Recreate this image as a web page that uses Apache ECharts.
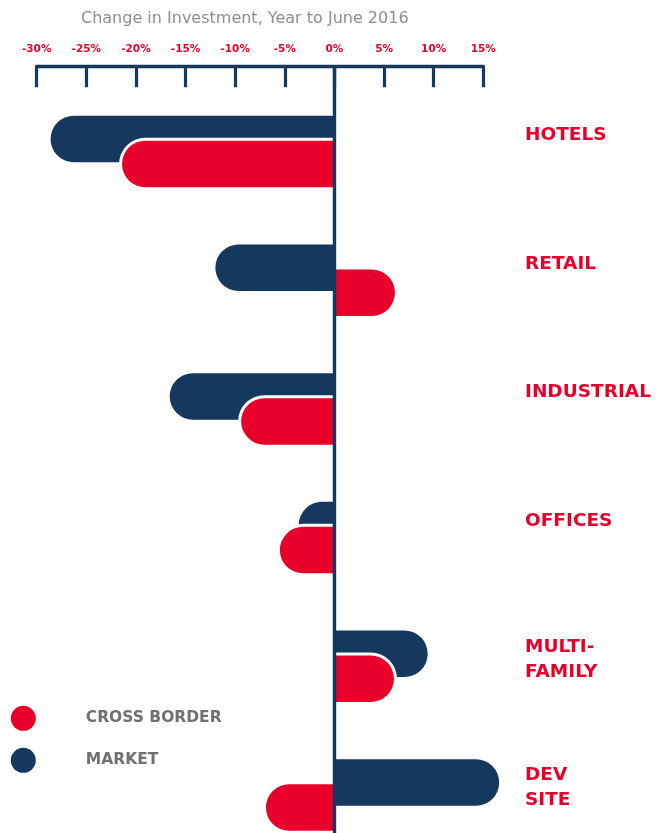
<!DOCTYPE html>
<html>
<head>
<meta charset="utf-8">
<script src="https://cdn.jsdelivr.net/npm/echarts@6/dist/echarts.min.js"></script>
<style>
html,body{margin:0;padding:0;background:#fff;}
#chart{width:669px;height:833px;}
</style>
</head>
<body>
<div id="chart"></div>
<script>
// ---- data ----
const categories = ['HOTELS', 'RETAIL', 'INDUSTRIAL', 'OFFICES', 'MULTI-\nFAMILY', 'DEV\nSITE'];
const marketValues = [-28.6, -12.0, -16.6, -3.6, 9.4, 16.6];
const crossBorderValues = [-21.4, 6.1, -9.4, -5.5, 6.0, -6.9];
const xTicks = { min: -30, max: 15, interval: 5 };
const titleText = 'Change in Investment, Year to June 2016';
const seriesNames = ['CROSS BORDER', 'MARKET'];

// ---- style ----
const NAVY = '#15385e';
const RED = '#e8002a';
const FONT = 'DejaVu Sans';
const BAR_W = 46.5;
const R = BAR_W / 2;
const OFFSET = 12.5;   // half of the vertical shift between the two bars
const PAD = 3;         // white outline thickness around cross-border bars
const GRID_LEFT = 36.7, GRID_RIGHT = 669 - 483.3;

function rounded(vals) {
  return vals.map(v => ({
    value: v,
    itemStyle: { borderRadius: v < 0 ? [R, 0, 0, R] : [0, R, R, 0] }
  }));
}

const chart = echarts.init(document.getElementById('chart'), null, { renderer: 'canvas' });
chart.setOption({
  animation: false,
  backgroundColor: '#fff',
  title: {
    text: titleText,
    left: 81,
    top: 11,
    padding: 0,
    textStyle: { fontFamily: FONT, fontSize: 16, fontWeight: 'normal', color: '#8e8e8e' }
  },
  legend: {
    data: seriesNames,
    orient: 'vertical',
    left: 10.8,
    top: 705.8,
    padding: 0,
    icon: 'circle',
    itemWidth: 25,
    itemHeight: 25,
    itemGap: 17,
    selectedMode: false,
    textStyle: { fontFamily: FONT, fontSize: 15.5, fontWeight: 'bold', color: '#707070', padding: [2, 0, 0, 45] }
  },
  grid: [
    { left: GRID_LEFT, right: GRID_RIGHT, top: 151.5, bottom: 38, containLabel: false },
    { left: GRID_LEFT, right: GRID_RIGHT, top: 66.7, bottom: 0, containLabel: false }
  ],
  xAxis: [
    {
      gridIndex: 0, type: 'value', min: xTicks.min, max: xTicks.max, interval: xTicks.interval,
      show: false
    },
    {
      gridIndex: 1, type: 'value', position: 'top', min: xTicks.min, max: xTicks.max, interval: xTicks.interval,
      axisLine: { show: true, onZero: false, lineStyle: { color: NAVY, width: 3.4 } },
      axisTick: { show: true, inside: true, length: 20.5, lineStyle: { color: NAVY, width: 3.2 } },
      axisLabel: {
        formatter: '{value}%', margin: 12, color: RED,
        fontFamily: FONT, fontSize: 10.5, fontWeight: 'bold'
      },
      splitLine: { show: false },
      z: 10
    }
  ],
  yAxis: [
    {
      gridIndex: 0, type: 'category', inverse: true, data: categories, position: 'right',
      boundaryGap: false,
      axisLine: { show: false }, axisTick: { show: false }, splitLine: { show: false },
      axisLabel: {
        margin: 41.7, color: RED, fontFamily: FONT, fontSize: 18.5, fontWeight: 'bold',
        lineHeight: 25, verticalAlign: 'middle', align: 'left',
        formatter: function (v) {
          return v.indexOf('\n') >= 0 ? v + '\n{s2| }' : v + '\n{s1| }';
        },
        rich: {
          s1: { lineHeight: 33, fontSize: 2 },
          s2: { lineHeight: 14, fontSize: 2 }
        }
      }
    },
    {
      gridIndex: 1, type: 'value', min: 0, max: 1,
      axisLine: { show: true, onZero: true, lineStyle: { color: NAVY, width: 3.4 } },
      axisTick: { show: false }, axisLabel: { show: false }, splitLine: { show: false },
      z: 10
    }
  ],
  series: [
    {
      name: seriesNames[1], type: 'bar', xAxisIndex: 0, yAxisIndex: 0,
      data: rounded(marketValues), barWidth: BAR_W, barGap: '-46.24%',
      itemStyle: { color: NAVY }, clip: false, z: 2
    },
    {
      name: 'outline', type: 'custom', xAxisIndex: 0, yAxisIndex: 0,
      data: crossBorderValues.map((v, i) => [v, i]),
      encode: { x: 0, y: 1 },
      clip: false, z: 3, silent: true,
      renderItem: function (params, api) {
        const v = api.value(0), c = api.value(1);
        const p0 = api.coord([0, c]);
        const p1 = api.coord([v, c]);
        const h = BAR_W + 2 * PAD;
        const cy = p0[1] + OFFSET;
        const x1 = p1[0] + (v < 0 ? -PAD : PAD);
        const x = Math.min(p0[0], x1), w = Math.abs(x1 - p0[0]);
        const r = h / 2;
        return {
          type: 'rect',
          shape: { x: x, y: cy - h / 2, width: w, height: h, r: v < 0 ? [r, 0, 0, r] : [0, r, r, 0] },
          style: { fill: '#fff' }
        };
      }
    },
    {
      name: seriesNames[0], type: 'bar', xAxisIndex: 0, yAxisIndex: 0,
      data: rounded(crossBorderValues), barWidth: BAR_W, barGap: '-46.24%',
      itemStyle: { color: RED }, clip: false, z: 4
    }
  ]
});
</script>
</body>
</html>
